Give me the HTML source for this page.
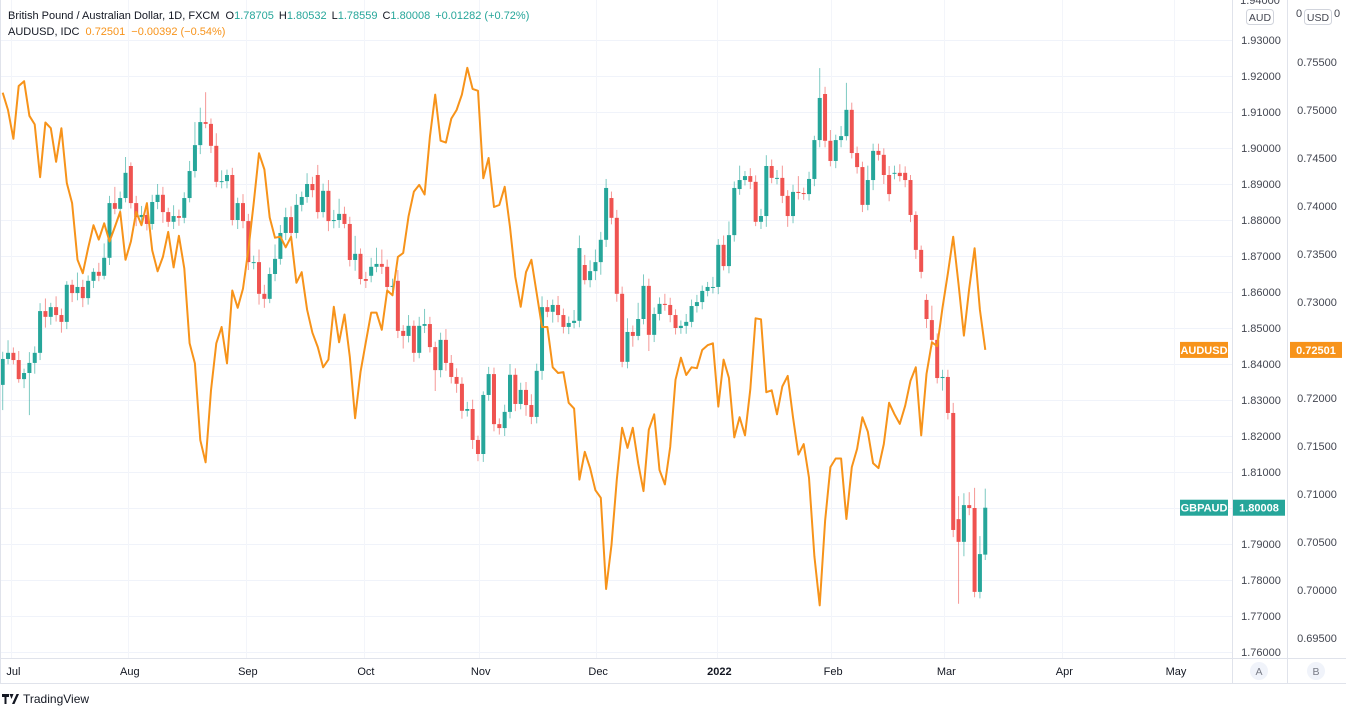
<!DOCTYPE html>
<html><head><meta charset="utf-8">
<style>
html,body{margin:0;padding:0;background:#fff;}
body{width:1346px;height:715px;overflow:hidden;font-family:"Liberation Sans",sans-serif;}
svg text{font-family:"Liberation Sans",sans-serif;}
</style></head>
<body>
<svg id="chart" width="1346" height="715" viewBox="0 0 1346 715" xmlns="http://www.w3.org/2000/svg">
  <rect x="0" y="0" width="1346" height="715" fill="#ffffff"/>
  <g id="grid"></g>
  <g id="candles"></g>
  <g id="lineG"></g>
  <line x1="1232.5" y1="0" x2="1232.5" y2="683" stroke="#e0e3eb"/>
  <line x1="1287.5" y1="0" x2="1287.5" y2="683" stroke="#e0e3eb"/>
  <line x1="0" y1="658.5" x2="1346" y2="658.5" stroke="#e0e3eb"/>
  <line x1="0" y1="683.5" x2="1346" y2="683.5" stroke="#e0e3eb"/>
  <line x1="0.5" y1="0" x2="0.5" y2="683" stroke="#e0e3eb"/>
  <g id="axisL"></g>
  <g id="axisR"></g>
  <g id="axisX"></g>
  <g>
    <rect x="1246.5" y="9.5" width="27" height="15" rx="3" fill="#fff" stroke="#d1d4dc"/>
    <text x="1260" y="21" font-size="10.5" fill="#434651" text-anchor="middle">AUD</text>
  </g>
  <g>
    <rect x="1304.5" y="9.5" width="27" height="15" rx="3" fill="#fff" stroke="#d1d4dc"/>
    <text x="1318" y="21" font-size="10.5" fill="#434651" text-anchor="middle">USD</text>
  </g>
  <text x="1296" y="17" font-size="11" fill="#434651">0</text>
  <text x="1334" y="17" font-size="11" fill="#434651">0</text>
  <text x="1260" y="4" font-size="11" fill="#434651" text-anchor="middle">1.94000</text>
  <g>
    <circle cx="1259" cy="671" r="9" fill="#f0f3fa"/>
    <text x="1259" y="675" font-size="10.5" fill="#787b86" text-anchor="middle">A</text>
  </g>
  <g>
    <circle cx="1316" cy="671" r="9" fill="#f0f3fa"/>
    <text x="1316" y="675" font-size="10.5" fill="#787b86" text-anchor="middle">B</text>
  </g>
  <g font-size="11">
    <text x="8" y="19" fill="#131722">British Pound / Australian Dollar, 1D, FXCM<tspan dx="6">O</tspan><tspan fill="#26a69a">1.78705</tspan><tspan dx="5">H</tspan><tspan fill="#26a69a">1.80532</tspan><tspan dx="5">L</tspan><tspan fill="#26a69a">1.78559</tspan><tspan dx="5">C</tspan><tspan fill="#26a69a">1.80008</tspan><tspan dx="5" fill="#26a69a">+0.01282 (+0.72%)</tspan></text>
  </g>
  <g font-size="11">
    <text x="8" y="35" fill="#131722">AUDUSD, IDC<tspan dx="6" fill="#f7931a">0.72501</tspan><tspan dx="6" fill="#f7931a">−0.00392 (−0.54%)</tspan></text>
  </g>
  <g>
    <path d="M2 694h7v3h-2.5v7h-2v-7H2z M9.5 694h4l-2 5z M12 704l4.5-10h2.5l-4.5 10z" fill="#131722"/>
    <text x="23" y="703" font-size="12" fill="#131722">TradingView</text>
  </g>
  <g id="tags"></g>
</svg>
<script>
// GBPAUD daily OHLC (Jul 2021 – Mar 2022)
const closes = [1.8414,1.8431,1.8411,1.8358,1.8375,1.8403,1.8431,1.8547,1.8531,1.8558,
1.8536,1.8517,1.8620,1.8597,1.8614,1.8583,1.8631,1.8656,1.8645,1.8695,
1.8847,1.8831,1.8861,1.8931,1.8847,1.8808,1.8814,1.8789,1.8850,1.8870,
1.8822,1.8795,1.8811,1.8806,1.8861,1.8936,1.9008,1.9072,1.9067,1.9006,
1.8906,1.8908,1.8925,1.8800,1.8847,1.8797,1.8683,1.8683,1.8595,1.8581,
1.8650,1.8692,1.8764,1.8808,1.8764,1.8842,1.8864,1.8900,1.8883,1.8822,
1.8881,1.8797,1.8800,1.8817,1.8789,1.8689,1.8706,1.8636,1.8631,1.8670,
1.8678,1.8670,1.8614,1.8617,1.8492,1.8478,1.8506,1.8431,1.8506,1.8511,
1.8447,1.8383,1.8467,1.8403,1.8364,1.8345,1.8270,1.8275,1.8189,1.8150,
1.8314,1.8372,1.8233,1.8222,1.8267,1.8370,1.8289,1.8328,1.8286,1.8253,
1.8381,1.8558,1.8545,1.8564,1.8536,1.8503,1.8514,1.8520,1.8722,1.8633,
1.8658,1.8683,1.8745,1.8889,1.8806,1.8595,1.8406,1.8489,1.8478,1.8525,
1.8617,1.8481,1.8539,1.8567,1.8564,1.8536,1.8500,1.8506,1.8517,1.8561,
1.8572,1.8603,1.8614,1.8614,1.8731,1.8672,1.8758,1.8889,1.8911,1.8922,
1.8906,1.8795,1.8811,1.8950,1.8917,1.8917,1.8867,1.8811,1.8878,1.8875,
1.8872,1.8914,1.9022,1.9139,1.9020,1.8964,1.9022,1.9033,1.9106,1.8986,
1.8947,1.8842,1.8911,1.8992,1.8981,1.8925,1.8872,1.8931,1.8922,1.8911,
1.8814,1.8717,1.8656,1.8525,1.8467,1.8361,1.8364,1.8264,1.7939,1.7906,
1.8008,1.8000,1.7767,1.7872,1.80008];
const opens = [1.8342,1.8414,1.8431,1.8411,1.8358,1.8375,1.8403,1.8431,1.8547,1.8531,
1.8558,1.8536,1.8517,1.8620,1.8597,1.8614,1.8583,1.8631,1.8656,1.8645,
1.8695,1.8847,1.8831,1.8861,1.8950,1.8847,1.8808,1.8814,1.8789,1.8850,
1.8870,1.8822,1.8795,1.8811,1.8806,1.8861,1.8936,1.9008,1.9072,1.9067,
1.9006,1.8906,1.8908,1.8925,1.8800,1.8847,1.8797,1.8683,1.8683,1.8595,
1.8581,1.8650,1.8692,1.8764,1.8808,1.8764,1.8842,1.8864,1.8900,1.8925,
1.8822,1.8881,1.8797,1.8800,1.8817,1.8789,1.8689,1.8706,1.8636,1.8645,
1.8670,1.8678,1.8670,1.8614,1.8631,1.8492,1.8478,1.8506,1.8431,1.8506,
1.8511,1.8447,1.8383,1.8467,1.8403,1.8364,1.8345,1.8270,1.8275,1.8189,
1.8150,1.8314,1.8372,1.8233,1.8222,1.8267,1.8370,1.8289,1.8328,1.8286,
1.8253,1.8381,1.8558,1.8545,1.8564,1.8536,1.8503,1.8514,1.8520,1.8675,
1.8633,1.8658,1.8683,1.8745,1.8861,1.8806,1.8595,1.8406,1.8489,1.8478,
1.8525,1.8617,1.8481,1.8539,1.8567,1.8564,1.8536,1.8500,1.8506,1.8517,
1.8561,1.8572,1.8603,1.8614,1.8614,1.8731,1.8672,1.8758,1.8886,1.8911,
1.8922,1.8906,1.8795,1.8811,1.8950,1.8917,1.8917,1.8867,1.8811,1.8878,
1.8875,1.8872,1.8914,1.9022,1.9150,1.9020,1.8964,1.9022,1.9033,1.9106,
1.8986,1.8947,1.8842,1.8911,1.8992,1.8981,1.8925,1.8931,1.8931,1.8931,
1.8911,1.8814,1.8717,1.8578,1.8522,1.8467,1.8361,1.8364,1.8264,1.7969,
1.7906,1.8008,1.8000,1.7767,1.78705];
// wick extents beyond the body, in pips
const wickUp = [20,35,15,25,12,30,18,22,35,12,30,18,10,14,40,20,15,10,25,40,
20,45,18,44,10,20,25,15,20,30,22,12,30,18,16,28,64,40,83,15,
35,30,15,20,15,25,20,18,35,25,18,40,22,26,30,30,15,30,20,28,
20,30,28,42,20,20,50,15,20,25,45,40,20,20,30,16,30,15,25,42,
20,15,20,30,22,24,18,20,26,12,10,20,18,16,20,30,18,20,22,30,
20,30,20,15,25,18,18,30,35,28,30,35,22,25,18,22,20,38,18,45,
32,20,18,18,28,20,16,15,22,18,20,15,14,28,16,26,38,18,40,14,
22,18,20,30,18,22,34,16,20,44,15,20,12,83,20,30,15,28,75,20,
18,15,40,20,20,18,25,20,24,18,14,10,12,16,40,18,20,20,28,64,
33,36,56,50,53];
const wickDn = [70,15,12,10,25,117,30,20,30,22,18,30,20,25,20,25,18,20,15,10,
20,15,22,12,15,25,15,18,16,20,30,14,20,22,15,12,18,25,12,20,
15,18,20,15,25,20,22,20,30,25,12,20,16,20,22,15,18,16,20,18,
15,28,20,22,12,18,30,15,20,18,15,20,15,18,20,35,18,25,15,20,
15,58,20,22,18,25,22,16,25,20,22,16,20,18,22,18,20,15,30,20,
18,25,15,30,20,18,20,15,18,12,20,25,35,20,18,22,15,18,30,12,
15,45,20,18,16,20,18,16,22,15,18,20,15,18,20,12,20,18,16,15,
20,12,20,30,15,18,20,30,20,18,16,18,20,20,18,15,20,20,12,15,
18,20,15,28,16,25,20,18,15,20,20,25,18,25,20,15,35,18,20,172,
40,20,15,18,15];
// AUDUSD daily close
const audusd = [.7518,.7500,.7470,.7525,.7530,.7494,.7485,.7430,.7487,.7481,
.7446,.7481,.7424,.7403,.7344,.7330,.7356,.7380,.7365,.7382,
.7363,.7378,.7394,.7344,.7363,.7394,.7380,.7403,.7354,.7332,
.7347,.7373,.7336,.7369,.7335,.7257,.7236,.7156,.7133,.7208,
.7257,.7274,.7236,.7312,.7294,.7314,.7354,.7403,.7455,.7438,
.7388,.7367,.7368,.7357,.7368,.7320,.7331,.7292,.7268,.7253,
.7232,.7240,.7295,.7258,.7287,.7243,.7179,.7227,.7258,.7289,
.7289,.7271,.7312,.7307,.7347,.7351,.7389,.7415,.7422,.7412,
.7472,.7516,.7468,.7466,.7491,.7500,.7516,.7544,.7522,.7520,
.7429,.7450,.7399,.7401,.7420,.7378,.7326,.7295,.7331,.7344,
.7309,.7274,.7274,.7232,.7226,.7227,.7195,.7189,.7115,.7144,
.7127,.7104,.7096,.7001,.7047,.7115,.7169,.7148,.7169,.7132,
.7103,.7167,.7183,.7125,.7110,.7149,.7219,.7242,.7224,.7232,
.7231,.7250,.7255,.7257,.7191,.7240,.7221,.7159,.7180,.7161,
.7209,.7283,.7282,.7206,.7208,.7183,.7212,.7223,.7180,.7141,
.7152,.7117,.7035,.6984,.7072,.7128,.7137,.7137,.7074,.7128,
.7147,.7180,.7165,.7132,.7127,.7152,.7195,.7183,.7173,.7192,
.7218,.7232,.7161,.7225,.7258,.7254,.7294,.7330,.7368,.7318,
.7265,.7314,.7356,.7292,.72501];
const leftTicks = [1.76,1.77,1.78,1.79,1.80,1.81,1.82,1.83,1.84,1.85,1.86,1.87,1.88,1.89,1.90,1.91,1.92,1.93];
const rightTicks = [0.695,0.700,0.705,0.710,0.715,0.720,0.730,0.735,0.740,0.745,0.750,0.755];
const monthLabels = ["Jul","Aug","Sep","Oct","Nov","Dec","2022","Feb","Mar","Apr","May"];
const monthBarIndex = [1.7,23.5,45.6,67.7,89.2,111.2,133.9,155.2,176.4,198.5,219.4];

const NS = "http://www.w3.org/2000/svg";
function yL(v){ return 40 + (1.93 - v) * 3600; }
function yR(v){ return 62 + (0.755 - v) * 9600; }
function xB(i){ return 2.7 + i * 5.34; }
function mk(tag, attrs, parent){ const e=document.createElementNS(NS,tag); for(const k in attrs) e.setAttribute(k,attrs[k]); parent.appendChild(e); return e; }

const grid=document.getElementById('grid');
leftTicks.forEach(v=>{
  const l=mk('line',{x1:0,x2:1232,y1:Math.round(yL(v))+0.5,y2:Math.round(yL(v))+0.5,stroke:'#f0f3fa'},grid);
  
  
});
monthBarIndex.forEach(m=>{
  const x=Math.round(xB(m-1)+5)+0.5;
  const l=mk('line',{x1:x,x2:x,y1:0,y2:658,stroke:'#f3f5fa'},grid);
  
  
});

const cg=document.getElementById('candles');
closes.forEach((c,i)=>{
  const o=opens[i];
  const up=c>=o;
  const col=up?'#26a69a':'#ef5350';
  const x=xB(i);
  const hi=Math.max(o,c)+wickUp[i]/10000, lo=Math.min(o,c)-wickDn[i]/10000;
  const g=mk('g',{},cg);
  
  
  mk('line',{x1:x,x2:x,y1:yL(hi),y2:yL(lo),stroke:col,'stroke-width':1,'stroke-opacity':0.6},g);
  const top=yL(Math.max(o,c)), bot=yL(Math.min(o,c));
  mk('rect',{x:x-2,y:top,width:4,height:Math.max(1,bot-top),fill:col},g);
});

const lg=document.getElementById('lineG');
const pts=audusd.map((v,i)=>xB(i).toFixed(1)+','+yR(v).toFixed(1)).join(' ');
const pl=mk('polyline',{points:pts,fill:'none',stroke:'#f7931a','stroke-width':2,'stroke-linejoin':'round'},lg);



const aL=document.getElementById('axisL');
leftTicks.forEach(v=>{
  if(Math.abs(v-1.80)<1e-6) return;
  const t=mk('text',{x:1261,y:yL(v)+4,'font-size':11,fill:'#434651','text-anchor':'middle'},aL);
  t.textContent=v.toFixed(5);
  
  
});
const aR=document.getElementById('axisR');
rightTicks.forEach(v=>{
  const t=mk('text',{x:1317,y:yR(v)+4,'font-size':11,fill:'#434651','text-anchor':'middle'},aR);
  t.textContent=v.toFixed(5);
  
  
});
const aX=document.getElementById('axisX');
monthLabels.forEach((m,k)=>{
  const t=mk('text',{x:xB(monthBarIndex[k]-1)+7,y:675,'font-size':11,fill:'#131722','text-anchor':'middle','font-weight':m==='2022'?'bold':'normal'},aX);
  t.textContent=m;
  
  
});

const tg=document.getElementById('tags');
function tag(x,y,w,text,col,name){
  const g=mk('g',{},tg);
  
  
  mk('rect',{x:x,y:y-8,width:w,height:16,fill:col},g);
  const t=mk('text',{x:x+w/2,y:y+4,'font-size':11,fill:'#fff','text-anchor':'middle','font-weight':'bold'},g);
  t.textContent=text;
}
const lastA=audusd[audusd.length-1], lastG=closes[closes.length-1];
tag(1180,yR(lastA),48,'AUDUSD','#f7931a','audusd-name-tag');
tag(1290,yR(lastA),52,lastA.toFixed(5),'#f7931a','audusd-price-tag');
tag(1180,yL(lastG),48,'GBPAUD','#26a69a','gbpaud-name-tag');
tag(1233,yL(lastG),52,lastG.toFixed(5),'#26a69a','gbpaud-price-tag');
</script>
</body></html>
